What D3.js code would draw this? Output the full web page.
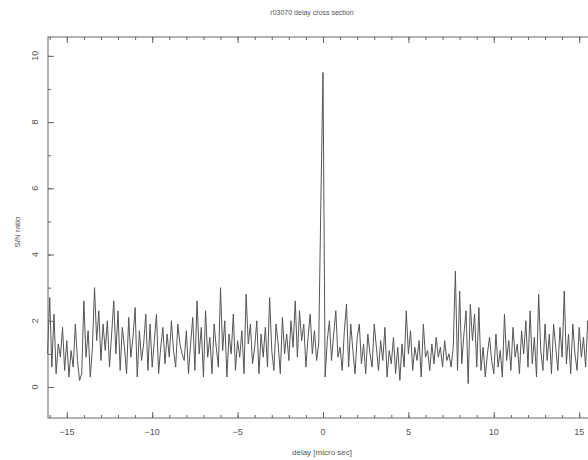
<!DOCTYPE html>
<meta charset="utf-8">
<style>
body { margin: 0; background: #fff; }
svg { display: block; font-family: "Liberation Sans", Arial, sans-serif; }
.frame { fill: none; stroke: #666; stroke-width: 1; }
.ax line { stroke: #666; }
.lbl { fill: #555; font-size: 9px; }
.trace { fill: none; stroke: #555; stroke-width: 1; stroke-linejoin: round; }
</style>
<svg width="588" height="460"></svg>
<script src="https://d3js.org/d3.v7.min.js"></script>
<script>

// delay grid (micro sec)
var delayStart = -16.125, delayStep = 0.125;

// S/N ratio, one per delay step
var snr = [
  1.0, 2.7, 0.6, 2.2, 0.4, 1.3, 0.9, 1.8,
  0.5, 1.4, 0.3, 1.1, 0.6, 1.9, 0.8, 0.2,
  0.4, 2.6, 0.9, 1.7, 0.3, 1.2, 3.0, 1.4,
  2.3, 0.8, 1.9, 1.1, 2.0, 0.6, 1.6, 2.6,
  1.0, 2.3, 0.5, 1.8, 1.2, 0.4, 2.1, 0.9,
  1.5, 2.4, 0.3, 1.7, 0.8, 1.3, 2.2, 0.5,
  1.9, 0.6, 1.4, 2.2, 0.4, 1.2, 1.8, 0.7,
  1.6, 0.9, 2.0, 1.1, 0.6, 1.9, 1.3, 1.0,
  0.8, 1.7, 0.4, 1.3, 2.1, 0.5, 2.6, 1.0,
  1.8, 0.3, 2.3, 0.9, 1.5, 0.4, 1.9, 1.2,
  0.6, 3.0, 1.1, 2.0, 0.3, 1.6, 1.0, 2.2,
  0.5, 1.4, 0.9, 1.7, 0.4, 2.8, 1.3, 1.9,
  0.7, 1.2, 2.0, 0.4, 1.6, 0.9, 1.8, 0.6,
  2.7, 1.1, 0.5, 1.9, 1.3, 0.4, 2.1, 1.0,
  1.6, 0.8, 2.0, 1.2, 2.6, 0.9, 2.3, 1.4,
  1.9, 0.6, 1.5, 2.2, 1.0, 1.7, 0.8, 1.3,
  5.6, 9.5,
  0.3, 1.4, 2.0, 0.8, 1.6, 2.3, 0.9, 1.2,
  0.5, 1.7, 2.5, 0.6, 1.9, 1.1, 0.4, 1.5,
  1.9, 0.7, 1.3, 0.4, 1.6, 1.0, 0.6, 1.9,
  1.2, 0.5, 1.4, 0.8, 1.8, 0.3, 1.1, 0.7,
  1.5, 0.4, 1.2, 0.2, 1.3, 0.6, 2.3, 1.0,
  1.7, 0.5, 1.2, 0.8, 1.4, 0.3, 1.9, 0.9,
  1.1, 0.5, 1.3, 0.7, 1.5, 0.9, 1.2, 0.6,
  1.4, 0.8, 1.0, 0.6, 1.2, 3.5, 0.5, 2.9,
  0.7, 1.6, 2.3, 0.1, 2.5, 1.4, 2.2, 0.6,
  2.4, 0.5, 1.2, 0.3, 1.0, 1.5, 0.8, 0.4,
  1.6, 0.6, 1.1, 0.3, 2.2, 0.8, 1.4, 0.5,
  1.8, 0.9, 1.3, 0.4, 1.7, 1.0, 2.0, 0.6,
  2.3, 0.7, 1.5, 0.3, 2.8, 1.1, 0.5, 1.9,
  0.8, 1.6, 0.4, 1.9, 1.2, 0.5, 1.8, 0.9,
  2.9, 0.7, 1.6, 0.4, 1.9, 1.0, 0.5, 1.8,
  0.9, 1.5, 0.6, 2.0, 1.1, 0.7, 1.4, 1.0,
  1.2
];

var xTicks = [-15, -10, -5, 0, 5, 10, 15];
var yTicks = [0, 2, 4, 6, 8, 10];

var title = "r03070 delay cross section",
    xTitle = "delay [micro sec]",
    yTitle = "S/N ratio";

var mLeft = 48, mRight = 598, mTop = 37, mBottom = 418;

var x = d3.scaleLinear().domain([-16.1, 16.1]).range([mLeft, mRight]);
var y = d3.scaleLinear().domain([-0.937, 10.57]).range([mBottom, mTop]);

var svg = d3.select("svg");

var data = snr.map(function(v, i) { return { d: delayStart + i * delayStep, v: v }; });

svg.append("path")
  .datum(data)
  .attr("class", "trace")
  .attr("d", d3.line().x(d => x(d.d)).y(d => y(d.v)));

svg.append("rect")
  .attr("class", "frame")
  .attr("x", mLeft).attr("y", mTop)
  .attr("width", mRight - mLeft).attr("height", mBottom - mTop);

// inward ticks, major + minor, on all sides
var xMinor = d3.range(-16, 17, 1);
var yMinor = d3.range(0, 11, 1);

function ticks(axis, pos, vals, size) {
  svg.append("g").attr("class", "ax").attr("transform", pos)
    .call(axis.tickValues(vals).tickSize(size).tickFormat(""))
    .call(g => g.select(".domain").remove());
}

ticks(d3.axisTop(x), `translate(0,${mBottom})`, xMinor, 3);
ticks(d3.axisTop(x), `translate(0,${mBottom})`, xTicks, 6);
ticks(d3.axisBottom(x), `translate(0,${mTop})`, xMinor, 3);
ticks(d3.axisBottom(x), `translate(0,${mTop})`, xTicks, 6);
ticks(d3.axisRight(y), `translate(${mLeft},0)`, yMinor, 3);
ticks(d3.axisRight(y), `translate(${mLeft},0)`, yTicks, 6);

// tick labels
svg.selectAll(".xl").data(xTicks).enter().append("text")
  .attr("class", "lbl")
  .attr("x", d => x(d)).attr("y", 435)
  .attr("text-anchor", "middle")
  .text(d => d < 0 ? "\u2212" + Math.abs(d) : d);

svg.selectAll(".yl").data(yTicks).enter().append("text")
  .attr("class", "lbl")
  .attr("transform", d => `translate(38,${y(d)}) rotate(-90)`)
  .attr("text-anchor", "middle")
  .text(d => d);

svg.append("text").attr("class", "lbl")
  .attr("x", 322).attr("y", 455)
  .attr("text-anchor", "middle")
  .style("font-size", "8px")
  .text(xTitle);

svg.append("text").attr("class", "lbl")
  .attr("transform", "translate(20,232) rotate(-90)")
  .attr("text-anchor", "middle")
  .style("font-size", "8px")
  .text(yTitle);

svg.append("text").attr("class", "lbl")
  .attr("x", 312).attr("y", 15)
  .attr("text-anchor", "middle")
  .style("font-size", "7px")
  .text(title);

</script>
